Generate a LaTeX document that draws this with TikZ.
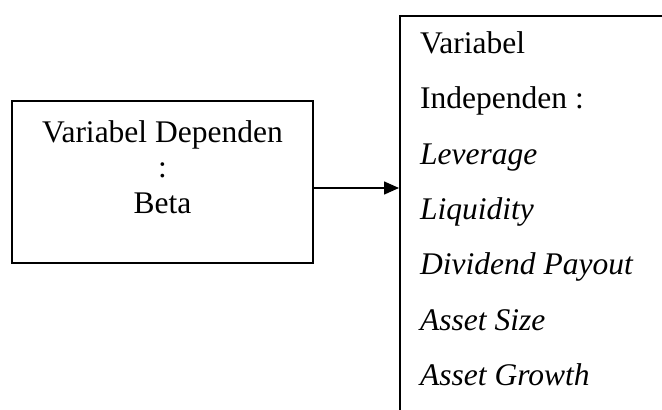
\documentclass[tikz,border=0pt]{standalone}
\usepackage{fontspec}
\setmainfont{Liberation Serif}
\usetikzlibrary{arrows.meta}
\begin{document}
\begin{tikzpicture}[x=1pt,y=-1pt,
  txt/.style={inner sep=0pt,font=\fontsize{31.5}{38}\selectfont},
  boxline/.style={draw=black,line width=1.5pt},
  conn/.style={line width=1.5pt,-{Triangle[length=15pt,width=13pt]}}]
\useasboundingbox (0,0) rectangle (662,410);
\clip (0,0) rectangle (662,410);
% left box
\node[boxline,minimum width=301pt,minimum height=162pt,inner sep=0pt] (dep) at (162.5,182) {};
\node[txt,anchor=base] (d1) at (162.5,142) {Variabel Dependen};
\node[txt,anchor=base] (d2) at (162.5,177) {:};
\node[txt,anchor=base] (d3) at (162.5,213) {Beta};
% right box (cut off at right and bottom)
\node[boxline,anchor=north west,minimum width=320pt,minimum height=440pt,inner sep=0pt] (ind) at (399,15) {};
\node[txt,anchor=base west] (i1) at (420,53) {Variabel};
\node[txt,anchor=base west] (i2) at (420,108.5) {Independen :};
\node[txt,anchor=base west] (i3) at (420,164) {\itshape Leverage};
\node[txt,anchor=base west] (i4) at (420,219) {\itshape Liquidity};
\node[txt,anchor=base west] (i5) at (420,274.5) {\itshape Dividend Payout};
\node[txt,anchor=base west] (i6) at (420,330) {\itshape Asset Size};
\node[txt,anchor=base west] (i7) at (420,385.5) {\itshape Asset Growth};
% arrow
\path (dep.east) ++(0,6) coordinate (as);
\draw[conn] (as) -- (as -| ind.west);
\end{tikzpicture}
\end{document}
